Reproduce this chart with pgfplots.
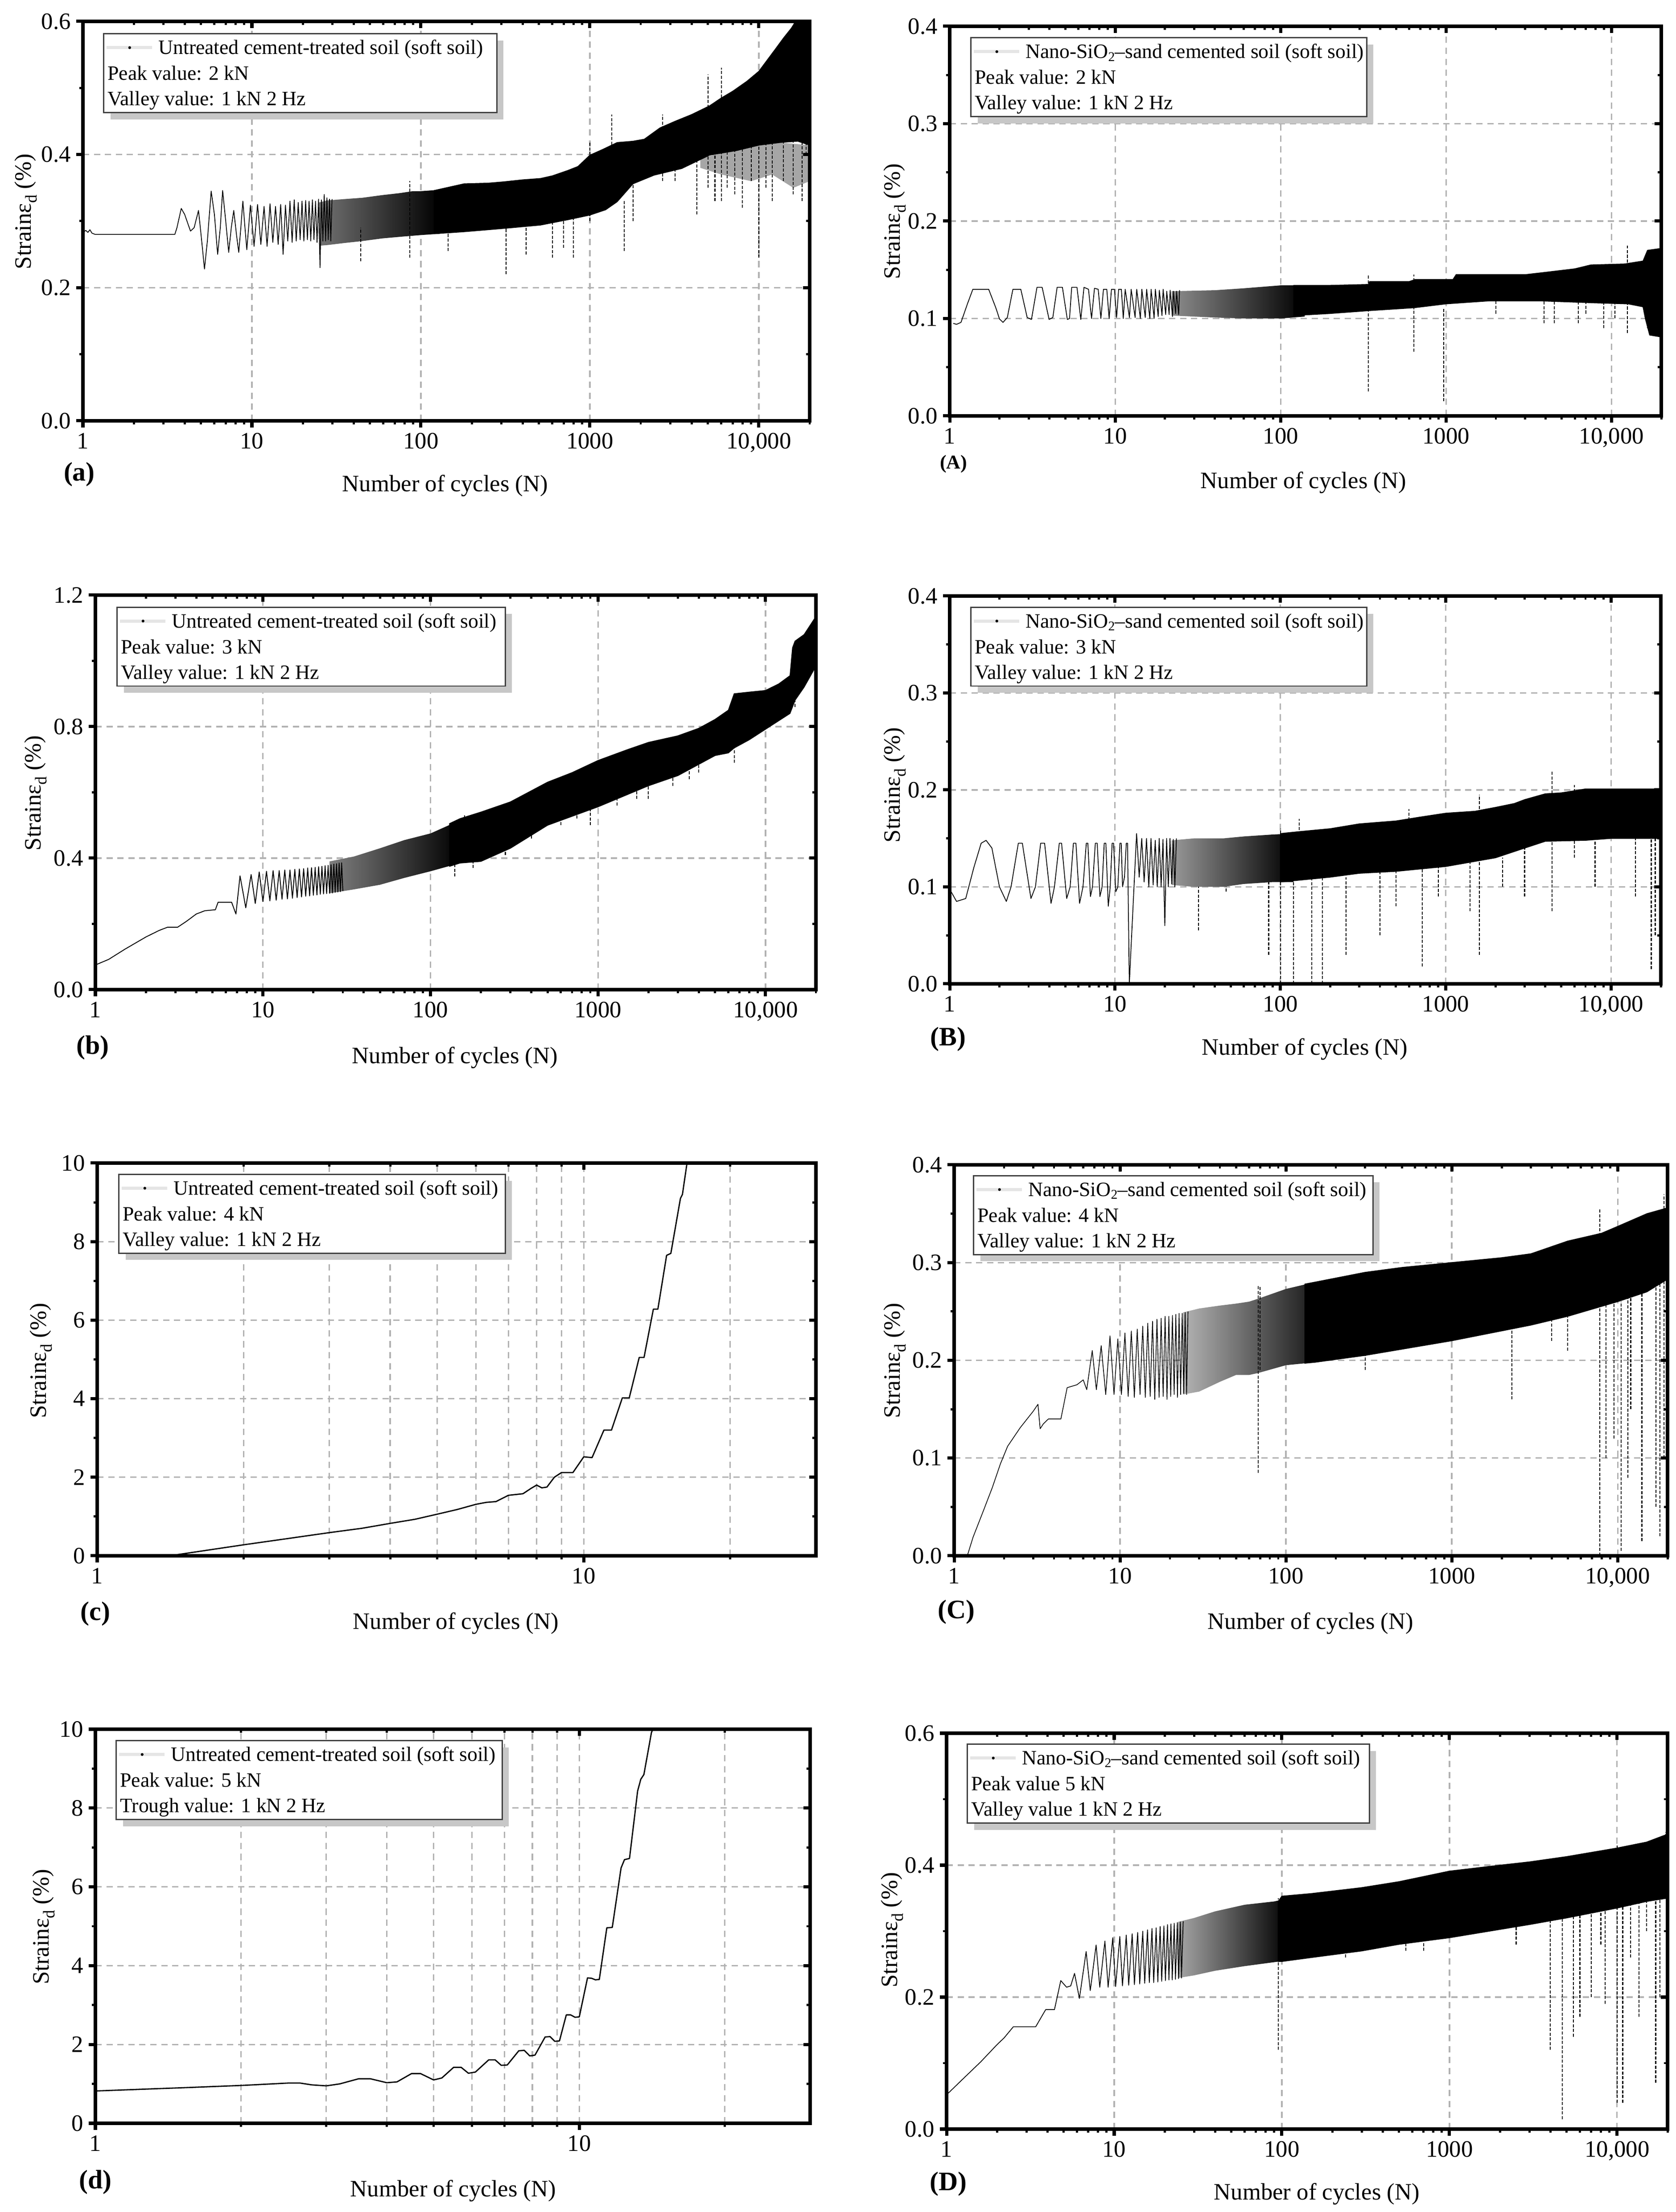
\documentclass[border=0pt]{standalone}
\usepackage{pgfplots}
\usepackage{fontspec}
\setmainfont{Liberation Serif}
\newcommand{\tf}{\fontsize{15}{15}\selectfont}
\newcommand{\lf}{\fontsize{13}{13}\selectfont}
\newcommand{\pfont}{\fontsize{17}{17}\selectfont\bfseries}
\newcommand{\sfont}{\fontsize{12.5}{12.5}\selectfont\bfseries}
\newcommand{\nano}{Nano-SiO\raisebox{-0.3ex}{\fontsize{8.5}{8.5}\selectfont 2}\textendash sand cemented soil (soft soil)}
\newcommand{\untr}{Untreated cement-treated soil (soft soil)}
\newcommand{\ylab}{Strainε\raisebox{-0.55ex}{\fontsize{10.5}{10.5}\selectfont d} (\%)}
\newcommand{\legbox}[6]{%
 \fill[black!22] (#1+15,#2+15) rectangle (#1+#3+15,#2+192);
 \filldraw[fill=white, draw=black!75, line width=0.8pt] (#1,#2) rectangle (#1+#3,#2+177);
 \draw[black!10, line width=2pt] (#1+6,#2+31) -- (#1+108,#2+31);
 \fill (#1+58,#2+31) circle[radius=0.9pt];
 \node[anchor=base west, inner sep=0pt, font=\lf] at (#1+122,#2+46) {#4};
 \node[anchor=base west, inner sep=0pt, font=\lf] at (#1+8,#2+104) {#5};
 \node[anchor=base west, inner sep=0pt, font=\lf] at (#1+8,#2+161) {#6};
}
\pgfplotsset{compat=1.18,
  scale only axis, xmin=1, xmax=20000, ymin=0,
  xtick={1,10,100,1000,10000}, xticklabels={1,10,100,1000,{10,000}},
  minor xtick={2,3,4,5,6,7,8,9,20,30,40,50,60,70,80,90,200,300,400,500,600,700,800,900,2000,3000,4000,5000,6000,7000,8000,9000,20000},
  axis line style={line width=2.4pt},
  major tick length=0.15cm, minor tick length=0.085cm,
  major tick style={line width=2pt, black},
  minor tick style={line width=1.4pt, black},
  tick label style={font=\tf},
  xtick pos=bottom, ytick pos=left, tick align=outside,
  grid=major,
  major grid style={black!30, line width=0.9pt, dash pattern=on 4pt off 3pt},
  minor grid style={black!30, line width=0.9pt, dash pattern=on 4pt off 3pt},
}
\pgfkeys{/pgf/number format/assume math mode=true}
\begin{document}
\begin{tikzpicture}
\useasboundingbox (0,0) rectangle (37.58,49.62);

% ---------------- (a)
\begin{semilogxaxis}[anchor=south west, at={(1.86cm,40.18cm)}, width=16.30cm, height=8.96cm, ymax=0.6, ytick={0,0.2,0.4,0.6}, yticklabels={0.0,0.2,0.4,0.6}, minor ytick={0.1,0.3,0.5}]
\addplot[fill=black!35, draw=none] coordinates {(4500,0.395) (7400,0.406) (10000,0.414) (13300,0.418) (20000,0.414) (20000,0.36) (16000,0.35) (12000,0.37) (9000,0.36) (6000,0.37) (4500,0.38)} -- cycle;
\addplot[draw=none, left color=black!55, right color=black] coordinates {(25,0.328) (28,0.331) (35,0.333) (45,0.335) (59,0.339) (75,0.342) (90,0.345) (100,0.345) (130,0.347) (130,0.281) (100,0.279) (80,0.277) (59,0.274) (45,0.27) (35,0.267) (28,0.264) (25,0.263)} -- cycle;
\addplot[fill=black, draw=black, line width=0.5pt] coordinates {(120,0.346) (180,0.356) (250,0.357) (310,0.359) (400,0.362) (510,0.364) (600,0.368) (740,0.376) (850,0.382) (1000,0.399) (1200,0.408) (1450,0.418) (1800,0.42) (2100,0.423) (2600,0.44) (3200,0.45) (4000,0.46) (5100,0.473) (6000,0.485) (7000,0.495) (8500,0.51) (10000,0.525) (12500,0.558) (14000,0.575) (15600,0.59) (16500,0.6) (20000,0.6) (20000,0.414) (17000,0.42) (13300,0.418) (10000,0.414) (7400,0.406) (5100,0.399) (3500,0.379) (2400,0.369) (1800,0.356) (1450,0.329) (1240,0.317) (1000,0.309) (740,0.302) (510,0.294) (310,0.289) (180,0.284) (120,0.281)} -- cycle;
\addplot[black, line width=0.5pt, line join=round] coordinates {(1,0.283) (1.04,0.286) (1.07,0.283) (1.1,0.287) (1.13,0.282) (1.18,0.28) (3.5,0.28) (3.6,0.29) (3.82,0.319) (4.0,0.31) (4.33,0.285) (4.55,0.29) (4.83,0.316) (5.0,0.28) (5.24,0.228) (5.45,0.27) (5.74,0.345) (6.0,0.31) (6.27,0.25) (6.5,0.29) (6.71,0.346) (7.0,0.30) (7.29,0.253) (7.55,0.29) (7.81,0.316) (8.1,0.28) (8.36,0.253) (8.6,0.29) (8.84,0.33) (9.1,0.29) (9.33,0.257) (9.8,0.324) (10.3,0.262) (10.8,0.325) (11.3,0.265) (11.8,0.322) (12.3,0.262) (12.8,0.326) (13.3,0.268) (13.8,0.322) (14.3,0.265) (14.8,0.325) (15.3,0.25) (15.8,0.324) (16.3,0.27) (16.8,0.33) (17.3,0.268) (17.8,0.332) (18.3,0.27) (18.8,0.328) (19.3,0.272) (19.8,0.33) (20.3,0.27) (20.8,0.331) (21.3,0.272) (21.8,0.33) (22.3,0.27) (22.8,0.332) (23.3,0.272) (23.8,0.33) (24.3,0.268) (24.8,0.333) (25.3,0.23) (25.8,0.332) (26.3,0.27) (26.8,0.34) (27.3,0.27) (27.8,0.335) (28.3,0.272) (28.8,0.333) (29.3,0.27) (29.8,0.333)};
\addplot[black, line width=0.6pt, dash pattern=on 2pt off 1pt, unbounded coords=jump] coordinates {(44,0.24) (44,0.29) (44,nan) (86,0.245) (86,0.36) (86,nan) (145,0.255) (145,0.30) (145,nan) (320,0.22) (320,0.30) (320,nan) (420,0.25) (420,0.30) (420,nan) (600,0.245) (600,0.31) (600,nan) (700,0.26) (700,0.3) (700,nan) (800,0.245) (800,0.31) (800,nan) (1000,0.3) (1000,0.42) (1000,nan) (1350,0.33) (1350,0.46) (1350,nan) (1600,0.255) (1600,0.33) (1600,nan) (1800,0.3) (1800,0.36) (1800,nan) (2700,0.36) (2700,0.46) (2700,nan) (3200,0.36) (3200,0.40) (3200,nan) (4300,0.31) (4300,0.40) (4300,nan) (5000,0.35) (5000,0.52) (5000,nan) (5500,0.33) (5500,0.4) (5500,nan) (6000,0.33) (6000,0.53) (6000,nan) (6500,0.35) (6500,0.41) (6500,nan) (7200,0.34) (7200,0.41) (7200,nan) (8000,0.32) (8000,0.41) (8000,nan) (9000,0.36) (9000,0.42) (9000,nan) (10000,0.245) (10000,0.42) (10000,nan) (11000,0.35) (11000,0.42) (11000,nan) (12000,0.33) (12000,0.42) (12000,nan) (14000,0.36) (14000,0.42) (14000,nan) (16000,0.34) (16000,0.42) (16000,nan) (18000,0.33) (18000,0.42) (18000,nan) (19000,0.4) (19000,0.6)};
\end{semilogxaxis}
\begin{semilogxaxis}[anchor=south west, at={(1.86cm,40.18cm)}, width=16.30cm, height=8.96cm, ymax=0.6, ytick={0,0.2,0.4,0.6}, minor ytick={0.1,0.3,0.5}, xtick pos=top, ytick pos=right, tick align=inside, xticklabels={}, yticklabels={}, grid=none]\end{semilogxaxis}

% ---------------- (A)
\begin{semilogxaxis}[anchor=south west, at={(21.30cm,40.29cm)}, width=15.96cm, height=8.74cm, ymax=0.4, ytick={0,0.1,0.2,0.3,0.4}, yticklabels={0.0,0.1,0.2,0.3,0.4}, minor ytick={0.05,0.15,0.25,0.35}]
\addplot[draw=none, left color=black!45, right color=black] coordinates {(22,0.128) (40,0.129) (60,0.131) (100,0.134) (140,0.134) (140,0.102) (100,0.1) (60,0.1) (40,0.101) (22,0.103)} -- cycle;
\addplot[fill=black, draw=black, line width=0.5pt] coordinates {(120,0.134) (200,0.134) (340,0.135) (345,0.138) (600,0.138) (650,0.14) (1100,0.14) (1150,0.145) (3000,0.145) (3800,0.147) (6000,0.151) (7500,0.155) (12000,0.156) (15500,0.159) (16500,0.17) (20000,0.172) (20000,0.081) (17000,0.083) (16000,0.1) (15500,0.112) (12600,0.115) (8000,0.116) (3800,0.118) (1800,0.118) (1000,0.115) (640,0.111) (340,0.108) (195,0.105) (120,0.103)} -- cycle;
\addplot[black, line width=0.5pt, line join=round] coordinates {(1.05,0.095) (1.1,0.094) (1.17,0.096) (1.28,0.115) (1.38,0.13) (1.72,0.13) (1.9,0.111) (2.0,0.0995) (2.1,0.096) (2.23,0.101) (2.41,0.13) (2.69,0.13) (2.94,0.101) (3.12,0.099) (3.37,0.132) (3.62,0.132) (3.99,0.099) (4.2,0.101) (4.46,0.132) (4.8,0.132) (5.14,0.099) (5.3,0.1) (5.46,0.132) (5.88,0.132) (6.2,0.099) (6.48,0.132) (6.9,0.13) (7.2,0.1) (7.5,0.131) (7.9,0.13) (8.2,0.1) (8.5,0.13) (8.9,0.13) (9.2,0.1) (9.5,0.13) (9.9,0.13) (10.2,0.101) (10.5,0.13) (10.9,0.13) (11.2,0.1) (11.5,0.13) (12.2,0.101) (12.5,0.13) (13.2,0.101) (13.5,0.13) (14.2,0.1) (14.5,0.13) (15.2,0.101) (15.5,0.13) (16.2,0.1) (16.5,0.13) (17.2,0.1) (17.5,0.13) (18.2,0.102) (18.5,0.129) (19.2,0.103) (19.5,0.13) (20.2,0.104) (20.5,0.128) (21.2,0.104) (21.5,0.129) (22.2,0.102) (22.5,0.128) (23.2,0.105) (23.5,0.128) (24.2,0.104) (24.5,0.129)};
\addplot[black, line width=0.6pt, dash pattern=on 2pt off 1pt, unbounded coords=jump] coordinates {(340,0.025) (340,0.145) (340,nan) (640,0.066) (640,0.145) (640,nan) (970,0.015) (970,0.11) (970,nan) (2000,0.105) (2000,0.12) (2000,nan) (3900,0.095) (3900,0.12) (3900,nan) (4500,0.095) (4500,0.12) (4500,nan) (6300,0.095) (6300,0.12) (6300,nan) (7000,0.105) (7000,0.12) (7000,nan) (9000,0.09) (9000,0.12) (9000,nan) (10500,0.1) (10500,0.12) (10500,nan) (12500,0.085) (12500,0.175) (12500,nan) (16500,0.09) (16500,0.17)};
\end{semilogxaxis}
\begin{semilogxaxis}[anchor=south west, at={(21.30cm,40.29cm)}, width=15.96cm, height=8.74cm, ymax=0.4, ytick={0,0.1,0.2,0.3,0.4}, minor ytick={0.05,0.15,0.25,0.35}, xtick pos=top, ytick pos=right, tick align=inside, xticklabels={}, yticklabels={}, grid=none]\end{semilogxaxis}

% ---------------- (b)
\begin{semilogxaxis}[anchor=south west, at={(2.14cm,27.42cm)}, width=16.16cm, height=8.85cm, ymax=1.2, ytick={0,0.4,0.8,1.2}, yticklabels={0.0,0.4,0.8,1.2}, minor ytick={0.2,0.6,1.0}]
\addplot[draw=none, left color=black!50, right color=black] coordinates {(25,0.39) (35,0.405) (50,0.43) (70,0.455) (100,0.475) (150,0.515) (150,0.385) (100,0.36) (70,0.34) (50,0.319) (35,0.305) (25,0.293)} -- cycle;
\addplot[fill=black, draw=black, line width=0.5pt] coordinates {(130,0.505) (150,0.52) (200,0.54) (300,0.571) (500,0.631) (700,0.66) (1000,0.697) (1500,0.73) (2000,0.752) (3000,0.772) (4000,0.795) (5000,0.822) (6000,0.85) (6500,0.9) (8000,0.905) (10000,0.91) (12000,0.93) (14000,0.955) (14500,1.04) (15000,1.06) (17000,1.08) (20000,1.135) (20000,0.984) (17000,0.92) (15000,0.88) (14500,0.86) (14000,0.84) (10000,0.792) (8000,0.76) (6500,0.735) (6000,0.72) (5000,0.712) (3000,0.651) (2000,0.62) (1000,0.556) (500,0.5) (300,0.43) (200,0.39) (150,0.385) (130,0.375)} -- cycle;
\addplot[black, line width=0.55pt, line join=round] coordinates {(1,0.075) (1.2,0.092) (1.5,0.123) (2,0.16) (2.4,0.18) (2.7,0.19) (3.1,0.19) (3.5,0.208) (4,0.23) (4.5,0.24) (5.2,0.243) (5.4,0.266) (6.5,0.266) (6.9,0.23) (7.3,0.346) (7.9,0.249) (8.5,0.35) (9.0,0.262) (9.5,0.358) (10.0,0.268) (10.5,0.36) (11,0.27) (11.5,0.362) (12,0.272) (12.5,0.362) (13,0.275) (13.5,0.364) (14,0.276) (14.5,0.364) (15,0.278) (15.5,0.366) (16,0.28) (16.5,0.367) (17,0.282) (17.5,0.368) (18,0.284) (18.5,0.37) (19,0.285) (19.5,0.371) (20,0.287) (20.5,0.372) (21,0.288) (21.5,0.374) (22,0.29) (22.5,0.375) (23,0.291) (23.5,0.377) (24,0.292) (24.5,0.378) (25,0.293) (25.5,0.38) (26,0.294) (26.5,0.382) (27,0.296) (27.5,0.383) (28,0.297) (28.5,0.385) (29,0.298) (29.5,0.386) (30,0.3)};
\addplot[black, line width=0.6pt, dash pattern=on 2pt off 1pt, unbounded coords=jump] coordinates {(140,0.344) (140,0.40) (140,nan) (180,0.37) (180,0.42) (180,nan) (160,0.45) (160,0.53) (160,nan) (280,0.41) (280,0.46) (280,nan) (400,0.46) (400,0.5) (400,nan) (600,0.5) (600,0.56) (600,nan) (750,0.52) (750,0.58) (750,nan) (900,0.5) (900,0.56) (900,nan) (1300,0.56) (1300,0.62) (1300,nan) (1700,0.58) (1700,0.62) (1700,nan) (2000,0.58) (2000,0.66) (2000,nan) (2800,0.62) (2800,0.68) (2800,nan) (3500,0.64) (3500,0.7) (3500,nan) (4000,0.66) (4000,0.72) (4000,nan) (6500,0.69) (6500,0.78) (6500,nan) (14000,0.85) (14000,0.95) (14000,nan) (15000,0.86) (15000,0.95)};
\end{semilogxaxis}
\begin{semilogxaxis}[anchor=south west, at={(2.14cm,27.42cm)}, width=16.16cm, height=8.85cm, ymax=1.2, ytick={0,0.4,0.8,1.2}, minor ytick={0.2,0.6,1.0}, xtick pos=top, ytick pos=right, tick align=inside, xticklabels={}, yticklabels={}, grid=none]\end{semilogxaxis}

% ---------------- (B)
\begin{semilogxaxis}[anchor=south west, at={(21.30cm,27.55cm)}, width=15.95cm, height=8.70cm, ymax=0.4, ytick={0,0.1,0.2,0.3,0.4}, yticklabels={0.0,0.1,0.2,0.3,0.4}, minor ytick={0.05,0.15,0.25,0.35}]
\addplot[draw=none, left color=black!40, right color=black] coordinates {(22,0.148) (30,0.15) (45,0.15) (60,0.152) (90,0.154) (120,0.155) (120,0.105) (90,0.105) (60,0.103) (45,0.1) (30,0.1) (22,0.102)} -- cycle;
\addplot[fill=black, draw=black, line width=0.5pt] coordinates {(100,0.155) (130,0.157) (200,0.16) (300,0.165) (500,0.168) (700,0.172) (1000,0.176) (1500,0.178) (2000,0.182) (2600,0.186) (3000,0.19) (4000,0.196) (5000,0.197) (7000,0.201) (20000,0.201) (20000,0.15) (10000,0.15) (7000,0.148) (4000,0.147) (3000,0.14) (2000,0.13) (1000,0.121) (500,0.116) (300,0.114) (200,0.11) (100,0.105)} -- cycle;
\addplot[black, line width=0.5pt, line join=round] coordinates {(1.02,0.095) (1.1,0.085) (1.25,0.088) (1.4,0.12) (1.55,0.145) (1.66,0.148) (1.8,0.14) (2.0,0.1) (2.2,0.085) (2.35,0.1) (2.6,0.145) (2.75,0.145) (3.1,0.088) (3.3,0.1) (3.55,0.145) (3.75,0.145) (4.1,0.083) (4.3,0.1) (4.6,0.145) (4.75,0.145) (5.1,0.088) (5.35,0.1) (5.6,0.145) (5.8,0.145) (6.1,0.083) (6.4,0.1) (6.7,0.145) (6.85,0.145) (7.1,0.09) (7.3,0.1) (7.6,0.145) (7.8,0.145) (8.1,0.09) (8.35,0.1) (8.6,0.145) (8.8,0.145) (9.1,0.08) (9.35,0.1) (9.6,0.145) (9.8,0.145) (10.1,0.095) (10.4,0.1) (10.7,0.145) (10.9,0.145) (11.1,0.1) (11.4,0.11) (11.7,0.145) (11.9,0.145) (12.2,0.0) (12.6,0.05) (13.5,0.155) (14,0.11) (14.5,0.15) (15,0.105) (15.5,0.15) (16,0.1) (16.5,0.15) (17,0.102) (17.5,0.148) (18,0.1) (18.5,0.15) (19,0.1) (19.5,0.149) (20,0.06) (20.5,0.15) (21,0.1) (21.5,0.15) (22,0.103) (22.5,0.149) (23,0.1) (23.5,0.15)};
\addplot[black, line width=0.6pt, dash pattern=on 2pt off 1pt, unbounded coords=jump] coordinates {(32,0.055) (32,0.1) (32,nan) (47,0.095) (47,0.1) (47,nan) (85,0.03) (85,0.105) (85,nan) (100,0.0) (100,0.16) (100,nan) (120,0.0) (120,0.105) (120,nan) (130,0.11) (130,0.17) (130,nan) (155,0.0) (155,0.11) (155,nan) (180,0.0) (180,0.11) (180,nan) (250,0.03) (250,0.11) (250,nan) (400,0.05) (400,0.115) (400,nan) (500,0.08) (500,0.12) (500,nan) (600,0.12) (600,0.18) (600,nan) (720,0.018) (720,0.12) (720,nan) (900,0.09) (900,0.12) (900,nan) (1400,0.075) (1400,0.13) (1400,nan) (1600,0.03) (1600,0.195) (1600,nan) (2200,0.1) (2200,0.13) (2200,nan) (2600,0.14) (2600,0.185) (2600,nan) (3000,0.09) (3000,0.14) (3000,nan) (4400,0.075) (4400,0.22) (4400,nan) (6000,0.13) (6000,0.205) (6000,nan) (8000,0.1) (8000,0.15) (8000,nan) (14000,0.09) (14000,0.15) (14000,nan) (17500,0.015) (17500,0.15) (17500,nan) (18500,0.05) (18500,0.15)};
\end{semilogxaxis}
\begin{semilogxaxis}[anchor=south west, at={(21.30cm,27.55cm)}, width=15.95cm, height=8.70cm, ymax=0.4, ytick={0,0.1,0.2,0.3,0.4}, minor ytick={0.05,0.15,0.25,0.35}, xtick pos=top, ytick pos=right, tick align=inside, xticklabels={}, yticklabels={}, grid=none]\end{semilogxaxis}

% ---------------- (c)
\begin{semilogxaxis}[anchor=south west, at={(2.18cm,14.72cm)}, width=16.12cm, height=8.81cm, xmax=30, xtick={1,10}, xticklabels={1,10}, minor xtick={2,3,4,5,6,7,8,9,20}, xminorgrids=true, ymax=10, ytick={0,2,4,6,8,10}, yticklabels={0,2,4,6,8,10}, minor ytick={1,3,5,7,9}]
\addplot[black, line width=0.8pt, line join=round] coordinates {(1.4,0) (1.5,0.05) (2,0.28) (2.5,0.45) (3,0.59) (3.5,0.70) (4,0.825) (4.5,0.93) (5,1.06) (5.5,1.18) (6,1.31) (6.3,1.36) (6.6,1.38) (7,1.54) (7.5,1.58) (7.8,1.72) (8.0,1.80) (8.2,1.73) (8.4,1.75) (8.7,2.0) (9,2.12) (9.5,2.12) (10,2.52) (10.4,2.5) (11,3.2) (11.4,3.2) (12,4.02) (12.4,4.02) (13,5.05) (13.3,5.05) (13.9,6.28) (14.2,6.28) (14.8,7.65) (15.1,7.7) (15.8,9.1) (15.95,9.2) (16.3,10)};
\end{semilogxaxis}
\begin{semilogxaxis}[anchor=south west, at={(2.18cm,14.72cm)}, width=16.12cm, height=8.81cm, xmax=30, xtick={1,10}, minor xtick={2,3,4,5,6,7,8,9,20}, ymax=10, ytick={0,2,4,6,8,10}, minor ytick={1,3,5,7,9}, xtick pos=top, ytick pos=right, tick align=inside, xticklabels={}, yticklabels={}, grid=none]\end{semilogxaxis}

% ---------------- (C)
\begin{semilogxaxis}[anchor=south west, at={(21.40cm,14.72cm)}, width=16.00cm, height=8.77cm, ymax=0.4, ytick={0,0.1,0.2,0.3,0.4}, yticklabels={0.0,0.1,0.2,0.3,0.4}, minor ytick={0.05,0.15,0.25,0.35}]
\addplot[draw=none, left color=black!30, right color=black!90] coordinates {(24,0.249) (30,0.253) (40,0.256) (50,0.258) (60,0.26) (68,0.263) (100,0.273) (150,0.28) (150,0.198) (100,0.195) (68,0.187) (60,0.185) (50,0.185) (40,0.178) (30,0.168) (24,0.165)} -- cycle;
\addplot[fill=black, draw=black, line width=0.5pt] coordinates {(130,0.278) (150,0.28) (300,0.29) (500,0.295) (1000,0.30) (2000,0.305) (3000,0.309) (5000,0.322) (8000,0.33) (10000,0.337) (15000,0.35) (20000,0.356) (20000,0.283) (15000,0.27) (10000,0.26) (5000,0.245) (3000,0.236) (1000,0.22) (300,0.205) (150,0.198) (130,0.197)} -- cycle;
\addplot[black, line width=0.45pt, line join=round] coordinates {(1.2,0.0) (1.3,0.019) (1.5,0.046) (1.7,0.07) (1.9,0.094) (2.1,0.112) (2.5,0.131) (3.0,0.148) (3.2,0.155) (3.3,0.13) (3.45,0.135) (3.7,0.14) (4.4,0.14) (4.8,0.172) (5.5,0.175) (6,0.18) (6.3,0.17) (6.8,0.21) (7.2,0.17) (7.7,0.215) (8.2,0.165) (8.7,0.225) (9.2,0.165) (9.7,0.222) (10.2,0.165) (10.7,0.228) (11.2,0.163) (11.7,0.23) (12.2,0.162) (12.7,0.232) (13.2,0.165) (13.7,0.235) (14.2,0.162) (14.7,0.238) (15.2,0.163) (15.7,0.24) (16.2,0.16) (16.7,0.242) (17.2,0.162) (17.7,0.243) (18.2,0.163) (18.7,0.245) (19.2,0.16) (19.7,0.245) (20.2,0.163) (20.7,0.246) (21.2,0.165) (21.7,0.247) (22.2,0.162) (22.7,0.248) (23.2,0.165) (23.7,0.248) (24.2,0.166) (24.7,0.249) (25.2,0.165) (25.7,0.25)};
\addplot[black, line width=0.6pt, dash pattern=on 2pt off 1pt, unbounded coords=jump] coordinates {(68,0.085) (68,0.276) (68,nan) (70,0.19) (70,0.276) (70,nan) (300,0.19) (300,0.21) (300,nan) (2300,0.16) (2300,0.24) (2300,nan) (4000,0.22) (4000,0.25) (4000,nan) (5000,0.21) (5000,0.25) (5000,nan) (7800,0.0) (7800,0.355) (7800,nan) (8500,0.1) (8500,0.26) (8500,nan) (9500,0.12) (9500,0.26) (9500,nan) (10500,0.005) (10500,0.26) (10500,nan) (11500,0.08) (11500,0.27) (11500,nan) (12000,0.15) (12000,0.27) (12000,nan) (14000,0.015) (14000,0.27) (14000,nan) (17000,0.05) (17000,0.28) (17000,nan) (18000,0.02) (18000,0.28) (18000,nan) (19000,0.1) (19000,0.37)};
\end{semilogxaxis}
\begin{semilogxaxis}[anchor=south west, at={(21.40cm,14.72cm)}, width=16.00cm, height=8.77cm, ymax=0.4, ytick={0,0.1,0.2,0.3,0.4}, minor ytick={0.05,0.15,0.25,0.35}, xtick pos=top, ytick pos=right, tick align=inside, xticklabels={}, yticklabels={}, grid=none]\end{semilogxaxis}

% ---------------- (d)
\begin{semilogxaxis}[anchor=south west, at={(2.14cm,1.99cm)}, width=16.03cm, height=8.84cm, xmax=30, xtick={1,10}, xticklabels={1,10}, minor xtick={2,3,4,5,6,7,8,9,20}, xminorgrids=true, ymax=10, ytick={0,2,4,6,8,10}, yticklabels={0,2,4,6,8,10}, minor ytick={1,3,5,7,9}]
\addplot[black, line width=0.8pt, line join=round] coordinates {(1,0.82) (1.5,0.9) (2,0.96) (2.5,1.02) (2.65,1.02) (2.8,0.975) (3,0.95) (3.2,1.0) (3.5,1.13) (3.7,1.13) (4,1.03) (4.2,1.05) (4.5,1.26) (4.7,1.26) (5,1.10) (5.2,1.15) (5.5,1.42) (5.7,1.42) (5.9,1.27) (6.1,1.3) (6.5,1.61) (6.7,1.61) (6.9,1.47) (7.1,1.48) (7.5,1.84) (7.7,1.85) (7.9,1.71) (8.1,1.73) (8.5,2.19) (8.7,2.2) (8.9,2.08) (9.1,2.09) (9.4,2.75) (9.6,2.75) (9.8,2.69) (10.0,2.7) (10.4,3.69) (10.6,3.68) (10.8,3.64) (11.0,3.65) (11.4,4.96) (11.7,4.97) (12.2,6.48) (12.4,6.69) (12.7,6.72) (13.2,8.43) (13.4,8.73) (13.6,8.85) (14.1,9.92) (14.2,10)};
\end{semilogxaxis}
\begin{semilogxaxis}[anchor=south west, at={(2.14cm,1.99cm)}, width=16.03cm, height=8.84cm, xmax=30, xtick={1,10}, minor xtick={2,3,4,5,6,7,8,9,20}, ymax=10, ytick={0,2,4,6,8,10}, minor ytick={1,3,5,7,9}, xtick pos=top, ytick pos=right, tick align=inside, xticklabels={}, yticklabels={}, grid=none]\end{semilogxaxis}

% ---------------- (D)
\begin{semilogxaxis}[anchor=south west, at={(21.23cm,1.86cm)}, width=16.17cm, height=8.88cm, ymax=0.6, ytick={0,0.2,0.4,0.6}, yticklabels={0.0,0.2,0.4,0.6}, minor ytick={0.1,0.3,0.5}]
\addplot[draw=none, left color=black!35, right color=black] coordinates {(24,0.314) (30,0.32) (40,0.33) (60,0.34) (90,0.345) (110,0.35) (110,0.256) (90,0.253) (60,0.247) (40,0.24) (30,0.233) (24,0.229)} -- cycle;
\addplot[fill=black, draw=black, line width=0.5pt] coordinates {(95,0.345) (100,0.353) (150,0.357) (300,0.366) (500,0.375) (1000,0.391) (2000,0.4) (3000,0.405) (5000,0.413) (10000,0.426) (15000,0.435) (20000,0.447) (20000,0.35) (15000,0.345) (10000,0.335) (5000,0.32) (3000,0.31) (1000,0.29) (500,0.28) (300,0.27) (150,0.26) (100,0.254) (95,0.254)} -- cycle;
\addplot[black, line width=0.5pt, line join=round] coordinates {(1,0.052) (1.3,0.08) (1.6,0.102) (2,0.128) (2.2,0.138) (2.5,0.155) (3.4,0.155) (3.9,0.181) (4.4,0.181) (4.8,0.225) (5.2,0.215) (5.5,0.217) (5.8,0.236) (6.2,0.198) (6.8,0.269) (7.2,0.21) (7.8,0.279) (8.2,0.215) (8.8,0.285) (9.2,0.215) (9.8,0.29) (10.2,0.216) (10.8,0.292) (11.2,0.217) (11.8,0.294) (12.2,0.218) (12.8,0.296) (13.2,0.219) (13.8,0.298) (14.2,0.22) (14.8,0.3) (15.2,0.221) (15.8,0.302) (16.2,0.222) (16.8,0.304) (17.2,0.222) (17.8,0.305) (18.2,0.223) (18.8,0.307) (19.2,0.224) (19.8,0.308) (20.2,0.225) (20.8,0.31) (21.2,0.226) (21.8,0.311) (22.2,0.226) (22.8,0.312) (23.2,0.227) (23.8,0.313) (24.2,0.228) (24.8,0.314) (25.2,0.229) (25.8,0.315)};
\addplot[black, line width=0.6pt, dash pattern=on 2pt off 1pt, unbounded coords=jump] coordinates {(95,0.12) (95,0.35) (95,nan) (240,0.26) (240,0.3) (240,nan) (550,0.27) (550,0.31) (550,nan) (700,0.27) (700,0.31) (700,nan) (2500,0.28) (2500,0.33) (2500,nan) (4000,0.12) (4000,0.34) (4000,nan) (4700,0.015) (4700,0.34) (4700,nan) (5500,0.14) (5500,0.34) (5500,nan) (6000,0.17) (6000,0.34) (6000,nan) (7000,0.2) (7000,0.34) (7000,nan) (8000,0.28) (8000,0.34) (8000,nan) (8500,0.19) (8500,0.35) (8500,nan) (10000,0.04) (10000,0.43) (10000,nan) (10800,0.04) (10800,0.35) (10800,nan) (12000,0.26) (12000,0.34) (12000,nan) (13500,0.17) (13500,0.35) (13500,nan) (15000,0.3) (15000,0.35) (15000,nan) (17000,0.07) (17000,0.35) (17000,nan) (18000,0.2) (18000,0.36) (18000,nan) (19500,0.35) (19500,0.45)};
\end{semilogxaxis}
\begin{semilogxaxis}[anchor=south west, at={(21.23cm,1.86cm)}, width=16.17cm, height=8.88cm, ymax=0.6, ytick={0,0.2,0.4,0.6}, minor ytick={0.1,0.3,0.5}, xtick pos=top, ytick pos=right, tick align=inside, xticklabels={}, yticklabels={}, grid=none]\end{semilogxaxis}

% ---------------- texts (pixel coordinates, y downward)
\begin{scope}[x=0.01cm, y=-0.01cm, shift={(0cm,49.62cm)}]
\legbox{233}{76}{882}{\untr}{Peak value: 2 kN}{Valley value: 1 kN 2 Hz}
\legbox{2179}{85}{888}{\nano}{Peak value: 2 kN}{Valley value: 1 kN 2 Hz}
\legbox{263}{1363}{871}{\untr}{Peak value: 3 kN}{Valley value: 1 kN 2 Hz}
\legbox{2179}{1363}{888}{\nano}{Peak value: 3 kN}{Valley value: 1 kN 2 Hz}
\legbox{267}{2636}{867}{\untr}{Peak value: 4 kN}{Valley value: 1 kN 2 Hz}
\legbox{2185}{2639}{896}{\nano}{Peak value: 4 kN}{Valley value: 1 kN 2 Hz}
\legbox{261}{3907}{866}{\untr}{Peak value: 5 kN}{Trough value: 1 kN 2 Hz}
\legbox{2171}{3915}{902}{\nano}{Peak value 5 kN}{Valley value 1 kN 2 Hz}

\node[font=\tf] at (999,1090) {Number of cycles (N)};
\node[font=\tf] at (2925,1083) {Number of cycles (N)};
\node[font=\tf] at (1021,2374) {Number of cycles (N)};
\node[font=\tf] at (2928,2355) {Number of cycles (N)};
\node[font=\tf] at (1023,3644) {Number of cycles (N)};
\node[font=\tf] at (2941,3644) {Number of cycles (N)};
\node[font=\tf] at (1017,4917) {Number of cycles (N)};
\node[font=\tf] at (2955,4924) {Number of cycles (N)};

\node[font=\pfont] at (178,1065) {(a)};
\node[font=\sfont] at (2140,1042) {(A)};
\node[font=\pfont] at (208,2352) {(b)};
\node[font=\pfont] at (2128,2333) {(B)};
\node[font=\pfont] at (214,3622) {(c)};
\node[font=\pfont] at (2146,3618) {(C)};
\node[font=\pfont] at (214,4898) {(d)};
\node[font=\pfont] at (2128,4902) {(D)};

\node[font=\tf, rotate=90] at (58,475) {\ylab};
\node[font=\tf, rotate=90] at (2008,497) {\ylab};
\node[font=\tf, rotate=90] at (80,1780) {\ylab};
\node[font=\tf, rotate=90] at (2008,1762) {\ylab};
\node[font=\tf, rotate=90] at (92,3054) {\ylab};
\node[font=\tf, rotate=90] at (2008,3054) {\ylab};
\node[font=\tf, rotate=90] at (98,4325) {\ylab};
\node[font=\tf, rotate=90] at (2002,4332) {\ylab};
\end{scope}
\end{tikzpicture}
\end{document}
